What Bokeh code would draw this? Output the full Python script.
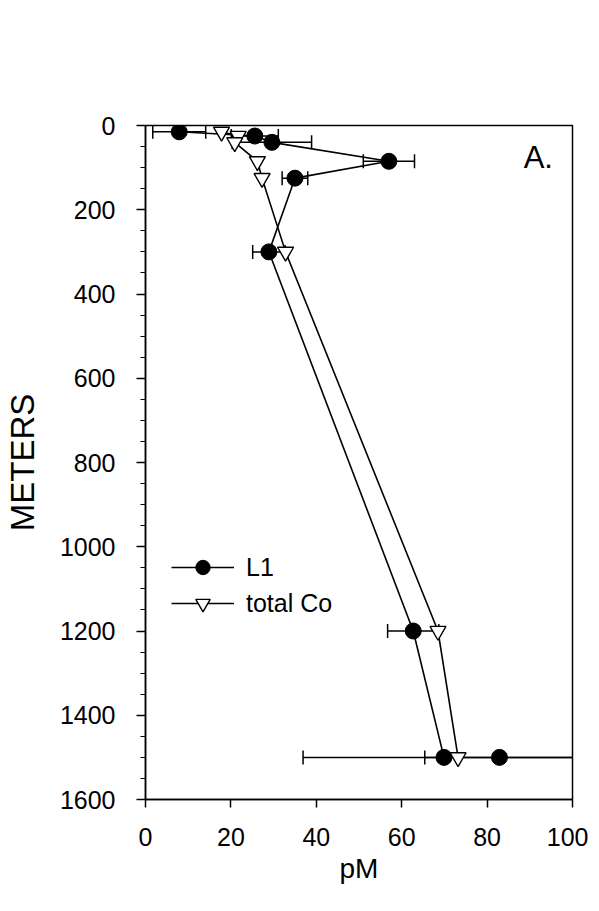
import numpy as np
from bokeh.plotting import figure
from bokeh.models import (Range1d, FixedTicker, Legend, LegendItem, Label)
from bokeh.embed import file_html
from bokeh.resources import INLINE

# ---- data ----
l1_depth = [15, 25, 40, 85, 125, 300, 1200, 1500]
l1_pm = [7.9, 25.6, 29.6, 57.0, 35.0, 28.9, 62.7, 69.9]
l1_err = [6.2, 5.5, 9.3, 6.0, 3.0, 3.8, 6.0, 33.0]

l1_extra_depth = [1500]
l1_extra_pm = [82.9]
l1_extra_err = [17.5]

co_depth = [15, 25, 40, 85, 125, 300, 1200, 1500]
co_pm = [17.8, 21.7, 20.9, 26.2, 27.3, 32.8, 68.5, 73.2]

x_ticks = [0, 20, 40, 60, 80, 100]
y_ticks = [0, 200, 400, 600, 800, 1000, 1200, 1400, 1600]
y_minor = list(range(0, 1601, 50))

FONT = "Liberation Sans"

p = figure(frame_width=427, frame_height=674,
           min_border_left=120, min_border_top=125,
           min_border_right=16, min_border_bottom=95,
           x_range=Range1d(0, 100), y_range=Range1d(1600, 0),
           output_backend="svg", toolbar_location=None,
           background_fill_color="white", border_fill_color="white")

p.grid.visible = False
p.outline_line_color = "black"
p.outline_line_width = 1.5

# axes
for ax in (p.xaxis[0], p.yaxis[0]):
    ax.axis_line_color = "black"
    ax.axis_line_width = 1.5
    ax.major_tick_line_color = "black"
    ax.major_tick_line_width = 1.5
    ax.minor_tick_line_color = "black"
    ax.major_label_text_font = FONT
    ax.major_label_text_font_size = "25px"
    ax.major_label_text_color = "black"
    ax.axis_label_text_font = FONT
    ax.axis_label_text_font_style = "normal"
    ax.axis_label_text_color = "black"

p.xaxis.ticker = FixedTicker(ticks=x_ticks, minor_ticks=[])
p.xaxis.major_tick_out = 8
p.xaxis.major_tick_in = 0
p.xaxis.minor_tick_out = 0
p.xaxis.major_label_standoff = 20
p.xaxis.axis_label = "pM"
p.xaxis.axis_label_text_font_size = "28px"
p.xaxis.axis_label_standoff = 4

p.yaxis.ticker = FixedTicker(ticks=y_ticks, minor_ticks=y_minor)
p.yaxis.major_tick_out = 9
p.yaxis.major_tick_in = 0
p.yaxis.minor_tick_out = 5
p.yaxis.minor_tick_in = 0
p.yaxis.minor_tick_line_width = 1.2
p.yaxis.major_label_standoff = 21
p.yaxis.axis_label = "METERS"
p.yaxis.axis_label_text_font_size = "33px"
p.yaxis.axis_label_standoff = 16

# error bars (horizontal, with caps) for L1
def errbars(xs, ys, errs):
    lo = [x - e for x, e in zip(xs, errs)]
    hi = [x + e for x, e in zip(xs, errs)]
    p.segment(x0=lo, y0=ys, x1=hi, y1=ys, line_color="black", line_width=1.5)
    p.scatter(x=lo + hi, y=list(ys) + list(ys), marker="dash", angle=np.pi / 2,
              size=14, line_color="black", line_width=1.5)

errbars(l1_pm, l1_depth, l1_err)
errbars(l1_extra_pm, l1_extra_depth, l1_extra_err)

# lines
l1_line = p.line(l1_pm, l1_depth, line_color="black", line_width=1.6)
co_line = p.line(co_pm, co_depth, line_color="black", line_width=1.6)

# markers
l1_pts = p.scatter(l1_pm, l1_depth, marker="circle", size=16,
                   fill_color="black", line_color="black")
p.scatter(l1_extra_pm, l1_extra_depth, marker="circle", size=16,
          fill_color="black", line_color="black")
co_pts = p.scatter(co_pm, co_depth, marker="inverted_triangle", size=16,
                   fill_color="white", line_color="black", line_width=1.4)

legend = Legend(items=[LegendItem(label="L1", renderers=[l1_line, l1_pts]),
                       LegendItem(label="total Co", renderers=[co_line, co_pts])],
                location=(26, 178), orientation="vertical",
                glyph_width=63, glyph_height=36, spacing=0,
                padding=0, margin=0, label_standoff=12,
                label_text_font=FONT, label_text_font_size="25px",
                label_text_color="black",
                border_line_color=None, background_fill_alpha=0)
p.add_layout(legend, "center")

p.add_layout(Label(x=92, y=76, text="A.", text_font=FONT, text_font_size="31px",
                   text_align="center", text_baseline="middle", text_color="black"))

open("out.html", "w").write(file_html(p, INLINE))
